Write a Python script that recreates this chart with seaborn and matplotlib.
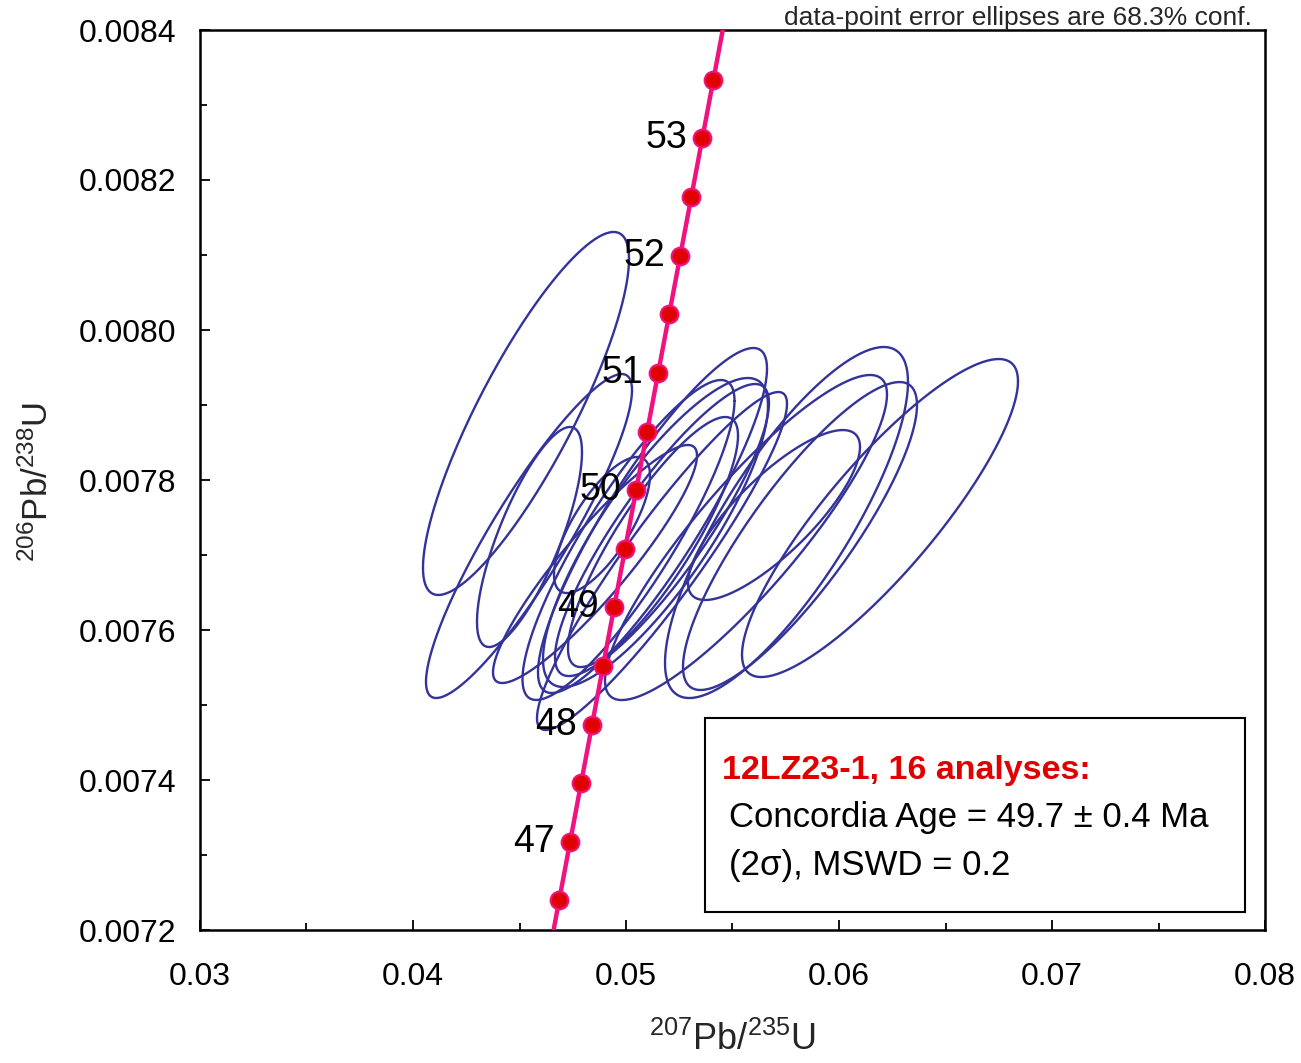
import numpy as np
import pandas as pd
import matplotlib
matplotlib.use("Agg")
import matplotlib.pyplot as plt
import seaborn as sns
from matplotlib.patches import Rectangle
from matplotlib.ticker import MultipleLocator, FormatStrFormatter

# ---------------- data ----------------
# concordia points (age in Ma, 207Pb/235U, 206Pb/238U)
conc_age = [46.5, 47.0, 47.5, 48.0, 48.5, 49.0, 49.5, 50.0, 50.5, 51.0, 51.5, 52.0, 52.5, 53.0, 53.5]
conc_x = [0.0468603, 0.0473760, 0.0478918, 0.0484080, 0.0489243, 0.0494410, 0.0499579, 0.0504751,
          0.0509925, 0.0515101, 0.0520281, 0.0525462, 0.0530647, 0.0535833, 0.0541023]
conc_y = [0.0072394, 0.0073175, 0.0073957, 0.0074738, 0.0075520, 0.0076301, 0.0077082, 0.0077864,
          0.0078646, 0.0079428, 0.0080209, 0.0080991, 0.0081773, 0.0082555, 0.0083337]
# curve continues past the plotted range (ages 46 and 54 Ma)
curve_ext_lo = (0.046345, 0.0071612)
curve_ext_hi = (0.0546215, 0.0084119)
label_ages = [47, 48, 49, 50, 51, 52, 53]

# error ellipses: centre, half-widths (68.3%), correlation
ell_x = [0.045305, 0.045446, 0.045469, 0.048873, 0.048545, 0.051244, 0.051385, 0.051690,
         0.051268, 0.051690, 0.056948, 0.057535, 0.055634, 0.058169, 0.061925, 0.050117]
ell_y = [0.0078887, 0.0077253, 0.0077240, 0.0077400, 0.0076880, 0.0077460, 0.0077300, 0.0077333,
         0.0077173, 0.0076920, 0.0077533, 0.0077433, 0.0077233, 0.0077253, 0.0077493, 0.0077200]
ell_sx = [0.004836, 0.004836, 0.002465, 0.002254, 0.004789, 0.005376, 0.005282, 0.005023,
          0.003991, 0.005869, 0.004038, 0.005704, 0.006620, 0.005493, 0.006479, 0.004977]
ell_sy = [0.0002420, 0.0002160, 0.0001467, 0.0000907, 0.0001587, 0.0002300, 0.0002060, 0.0001947,
          0.0001667, 0.0002253, 0.0001133, 0.0002340, 0.0002167, 0.0002053, 0.0002120, 0.0002133]
ell_rho = [0.85, 0.90, 0.77, 0.73, 0.91, 0.88, 0.82, 0.87, 0.85, 0.93, 0.80, 0.80, 0.88, 0.85, 0.86, 0.87]

x_ticks = [0.03, 0.04, 0.05, 0.06, 0.07, 0.08]
y_ticks = [0.0072, 0.0074, 0.0076, 0.0078, 0.0080, 0.0082, 0.0084]

sample_title = "12LZ23-1, 16 analyses:"
result_line1 = "Concordia Age = 49.7 \u00b1 0.4 Ma"
result_line2 = "(2\u03c3), MSWD = 0.2"
note = "data-point error ellipses are 68.3% conf."

# ---------------- style ----------------
sns.set_style("ticks")
plt.rcParams["font.family"] = ["Liberation Sans", "DejaVu Sans"]
plt.rcParams["mathtext.default"] = "regular"

ELL_COLOR = "#333399"
CURVE_COLOR = "#F0127E"
DOT_COLOR = "#E00000"

fig = plt.figure(figsize=(13.01, 10.63), dpi=100)
ax = fig.add_axes([200 / 1301, 1 - 930 / 1063, 1065 / 1301, 900 / 1063])

# ellipses
rows = []
t = np.linspace(0, 2 * np.pi, 241)
for i, (cx, cy, sx, sy, r) in enumerate(zip(ell_x, ell_y, ell_sx, ell_sy, ell_rho)):
    ex = cx + sx * np.cos(t)
    ey = cy + sy * (r * np.cos(t) + np.sqrt(1 - r * r) * np.sin(t))
    for a, b in zip(ex, ey):
        rows.append((i, a, b))
ell_df = pd.DataFrame(rows, columns=["id", "x", "y"])
sns.lineplot(data=ell_df, x="x", y="y", units="id", estimator=None, sort=False,
             color=ELL_COLOR, lw=1.7, ax=ax, zorder=2)

# concordia curve
cx_line = [curve_ext_lo[0]] + conc_x + [curve_ext_hi[0]]
cy_line = [curve_ext_lo[1]] + conc_y + [curve_ext_hi[1]]
sns.lineplot(x=cx_line, y=cy_line, sort=False, color=CURVE_COLOR, lw=3.2, ax=ax, zorder=3)
sns.scatterplot(x=conc_x, y=conc_y, s=160, color=DOT_COLOR, edgecolor=CURVE_COLOR,
                linewidth=1.6, ax=ax, zorder=4)

for age, px, py in zip(conc_age, conc_x, conc_y):
    if age in label_ages:
        ax.annotate(str(int(age)), (px, py), xytext=(-11, 0), textcoords="offset points",
                    ha="right", va="center", fontsize=27, color="black", zorder=5)

ax.set_xlim(0.03, 0.08)
ax.set_ylim(0.0072, 0.0084)
ax.set_xticks(x_ticks)
ax.set_yticks(y_ticks)
ax.xaxis.set_major_formatter(FormatStrFormatter("%.2f"))
ax.yaxis.set_major_formatter(FormatStrFormatter("%.4f"))
ax.xaxis.set_minor_locator(MultipleLocator(0.005))
ax.yaxis.set_minor_locator(MultipleLocator(0.0001))
ax.tick_params(axis="both", which="major", direction="in", length=7, width=1.3,
               labelsize=23, color="black", labelcolor="black")
ax.tick_params(axis="both", which="minor", direction="in", length=5, width=1.3, color="black")
ax.tick_params(axis="x", which="major", pad=23)
ax.tick_params(axis="y", which="major", pad=17)
ax.set_xlabel("")
ax.set_ylabel("")
for sp in ax.spines.values():
    sp.set_color("black")
    sp.set_linewidth(1.8)

# axis titles
fig.text(732.5 / 1301, 1 - 1040 / 1063, r"$^{207}$Pb/$^{235}$U", ha="center", va="center", fontsize=26)
fig.text(38 / 1301, 1 - 482 / 1063, r"$^{206}$Pb/$^{238}$U", ha="center", va="center",
         rotation=90, fontsize=25)

# note
fig.text(1252 / 1301, 1 - 18 / 1063, note, ha="right", va="center", fontsize=19)

# result box
box = Rectangle((505 / 1065, 18 / 900), 540 / 1065, 194 / 900, transform=ax.transAxes,
                facecolor="white", edgecolor="black", lw=1.5, zorder=6)
ax.add_patch(box)
ax.text(522 / 1065, (930 - 770) / 900, sample_title, transform=ax.transAxes, ha="left",
        va="center", fontsize=24.5, fontweight="bold", color="#E00000", zorder=7)
ax.text(529 / 1065, (930 - 818) / 900, result_line1, transform=ax.transAxes, ha="left",
        va="center", fontsize=25, color="black", zorder=7)
ax.text(529 / 1065, (930 - 865) / 900, result_line2, transform=ax.transAxes, ha="left",
        va="center", fontsize=25, color="black", zorder=7)

fig.savefig("out.png", dpi=100, facecolor="white")
